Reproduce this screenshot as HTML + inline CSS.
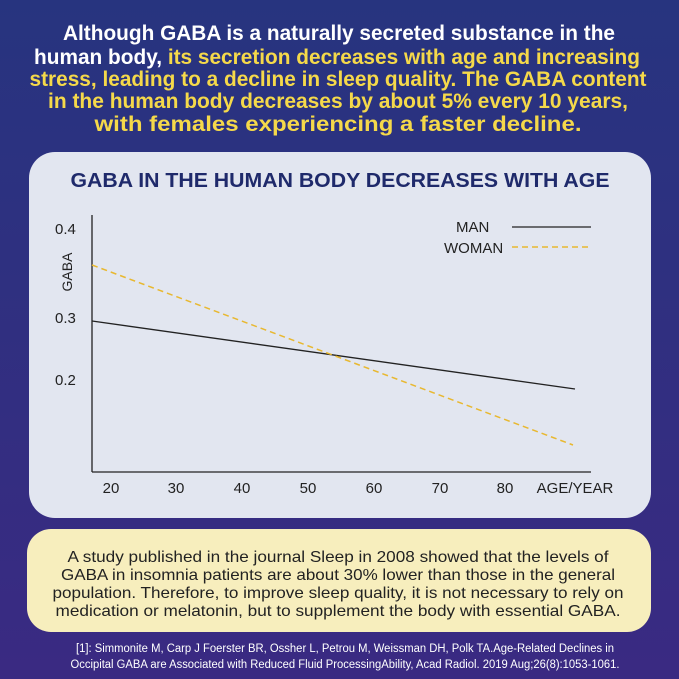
<!DOCTYPE html>
<html><head><meta charset="utf-8"><style>
html,body{margin:0;padding:0;}
body{width:679px;height:679px;overflow:hidden;}
svg{display:block;}
</style></head><body>
<svg width="679" height="679" viewBox="0 0 679 679" xmlns="http://www.w3.org/2000/svg" font-family="Liberation Sans, sans-serif">
<defs><linearGradient id="bg" x1="0" y1="0" x2="0" y2="1">
<stop offset="0" stop-color="#27347f"/><stop offset="1" stop-color="#3a2a82"/></linearGradient></defs>
<rect width="679" height="679" fill="url(#bg)"/>
<g font-size="21" font-weight="bold" text-anchor="middle">
<text x="339" y="40" fill="#ffffff" textLength="552" lengthAdjust="spacingAndGlyphs">Although GABA is a naturally secreted substance in the</text>
<text x="337" y="64" fill="#f5d94a" textLength="606" lengthAdjust="spacingAndGlyphs"><tspan fill="#ffffff">human body, </tspan>its secretion decreases with age and increasing</text>
<text x="338" y="86" fill="#f5d94a" textLength="617" lengthAdjust="spacingAndGlyphs">stress, leading to a decline in sleep quality. The GABA content</text>
<text x="338" y="108" fill="#f5d94a" textLength="580" lengthAdjust="spacingAndGlyphs">in the human body decreases by about 5% every 10 years,</text>
<text x="338" y="131" fill="#f5d94a" font-size="21" textLength="487" lengthAdjust="spacingAndGlyphs">with females experiencing a faster decline.</text>
</g>
<rect x="29" y="152" width="622" height="366" rx="26" fill="#e2e6f0"/>
<text x="340" y="187" font-size="20" font-weight="bold" fill="#1f2a6b" text-anchor="middle" textLength="539" lengthAdjust="spacingAndGlyphs">GABA IN THE HUMAN BODY DECREASES WITH AGE</text>
<line x1="92" y1="215" x2="92" y2="472" stroke="#222" stroke-width="1.3"/>
<line x1="92" y1="472" x2="591" y2="472" stroke="#222" stroke-width="1.3"/>
<line x1="92" y1="321" x2="575" y2="389" stroke="#222" stroke-width="1.3"/>
<line x1="92" y1="265" x2="573" y2="445" stroke="#e8b830" stroke-width="1.5" stroke-dasharray="6,4"/>
<g font-size="15" fill="#222">
<text x="55" y="234">0.4</text>
<text x="55" y="323">0.3</text>
<text x="55" y="385">0.2</text>
<text transform="translate(72,272) rotate(-90)" text-anchor="middle" font-size="14">GABA</text>
<g text-anchor="middle">
<text x="111" y="493">20</text><text x="176" y="493">30</text><text x="242" y="493">40</text>
<text x="308" y="493">50</text><text x="374" y="493">60</text><text x="440" y="493">70</text>
<text x="505" y="493">80</text><text x="575" y="493">AGE/YEAR</text>
</g>
<text x="456" y="232">MAN</text>
<text x="444" y="253">WOMAN</text>
</g>
<line x1="512" y1="227" x2="591" y2="227" stroke="#222" stroke-width="1.3"/>
<line x1="512" y1="247" x2="591" y2="247" stroke="#e8b830" stroke-width="1.5" stroke-dasharray="6,4"/>
<rect x="27" y="529" width="624" height="103" rx="24" fill="#f7eebd"/>
<g font-size="16" fill="#222" text-anchor="middle">
<text x="338" y="562" textLength="541" lengthAdjust="spacingAndGlyphs">A study published in the journal Sleep in 2008 showed that the levels of</text>
<text x="338" y="580" textLength="554" lengthAdjust="spacingAndGlyphs">GABA in insomnia patients are about 30% lower than those in the general</text>
<text x="338" y="598" textLength="571" lengthAdjust="spacingAndGlyphs">population. Therefore, to improve sleep quality, it is not necessary to rely on</text>
<text x="338" y="616" textLength="565" lengthAdjust="spacingAndGlyphs">medication or melatonin, but to supplement the body with essential GABA.</text>
</g>
<g font-size="11.5" fill="#ffffff" text-anchor="middle">
<text x="345" y="652" textLength="538" lengthAdjust="spacingAndGlyphs">[1]: Simmonite M, Carp J   Foerster BR, Ossher L, Petrou M, Weissman DH, Polk TA.Age-Related Declines in</text>
<text x="345" y="668" textLength="549" lengthAdjust="spacingAndGlyphs">Occipital GABA are Associated with Reduced Fluid ProcessingAbility, Acad Radiol. 2019 Aug;26(8):1053-1061.</text>
</g>
</svg>
</body></html>
